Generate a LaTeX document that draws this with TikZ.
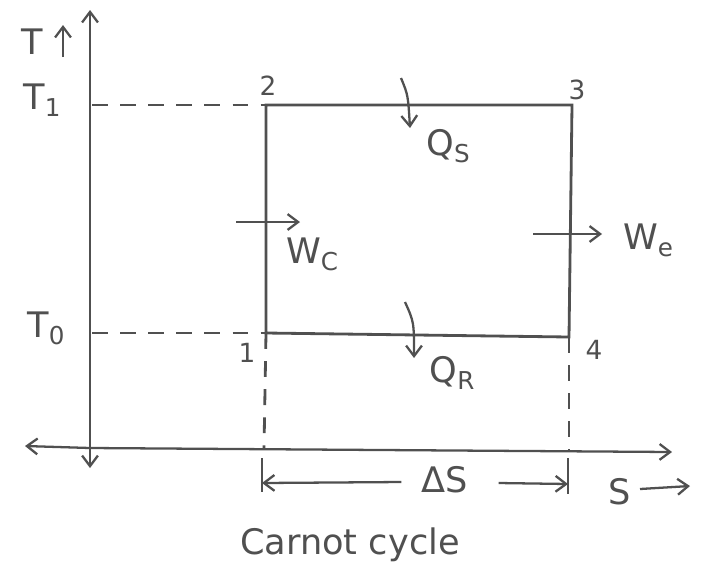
\documentclass[tikz,border=0pt]{standalone}
\usepackage{fontspec}
\setmainfont{DejaVu Sans}
\usetikzlibrary{arrows.meta}
\definecolor{ink}{RGB}{80,80,80}
\newcommand{\lowsub}[1]{\raisebox{-0.35ex}{\fontsize{14}{14}\selectfont #1}}
\begin{document}
\begin{tikzpicture}[x=0.02cm,y=-0.02cm,
  line/.style={draw=ink,line width=1.6pt},
  dashln/.style={draw=ink,line width=1.6pt,dash pattern=on 9pt off 7pt},
  arr/.style={draw=ink,line width=1.3pt,-{Straight Barb[length=6pt,width=9pt]}},
  lbl/.style={text=ink,font=\fontsize{20}{22}\selectfont,inner sep=0pt},
  sml/.style={text=ink,font=\fontsize{15}{17}\selectfont,inner sep=0pt}]
\fill[white] (0,0) rectangle (705,575);
\useasboundingbox (0,0) rectangle (705,575);
% axes
\coordinate (O) at (90,448);
\coordinate (Ytop) at (90,10);
\coordinate (Ybot) at (90,468);
\coordinate (Xl) at (25,446);
\coordinate (Xr) at (672,452);
\draw[arr] (O) -- (Ytop);
\draw[arr] (O) -- (Ybot);
\draw[arr] (O) -- (Xl);
\draw[arr] (O) -- (Xr);
% states
\coordinate (p1) at (266,333);
\coordinate (p2) at (266,105);
\coordinate (p3) at (572,105);
\coordinate (p4) at (569,337);
\draw[line] (p1) -- (p2) -- (p3) -- (p4) -- cycle;
% dashed projections
\coordinate (t1) at (92,105);
\coordinate (t0) at (92,333);
\coordinate (b1) at (264,448);
\coordinate (b4) at (569,452);
\draw[dashln] (t1) -- (p2);
\draw[dashln] (t0) -- (p1);
\draw[dashln] (p1) -- (b1);
\draw[dashln] (p4) -- (b4);
% Delta S dimension
\coordinate (d1a) at (262,458);
\coordinate (d1b) at (262,492);
\coordinate (d4a) at (568,458);
\coordinate (d4b) at (568,494);
\draw[line] (d1a) -- (d1b);
\draw[line] (d4a) -- (d4b);
\node[lbl] (dS) at (445,480) {ΔS};
\coordinate (dl) at (262,483);
\coordinate (dr) at (568,484);
\draw[arr] (dS.west) ++(-20,2) -- (dl);
\draw[arr] (dS.east) ++(30,3) -- (dr);
% labels
\node[lbl] (T) at (32,42) {T};
\coordinate (Ta) at (63,57);
\coordinate (Tb) at (63,25);
\draw[arr] (Ta) -- (Tb);
\node[lbl] (T1) at (42,100) {T\lowsub{1}};
\node[lbl] (T0) at (46,328) {T\lowsub{0}};
\node[sml] (n2) at (268,86) {2};
\node[sml] (n3) at (577,90) {3};
\node[sml] (n1) at (247,353) {1};
\node[sml] (n4) at (594,350) {4};
% S label
\node[lbl] (S) at (620,492) {S};
\coordinate (Sa) at (640,489);
\coordinate (Sb) at (690,486);
\draw[arr] (Sa) -- (Sb);
% heat and work
\coordinate (qsa) at (401,78);
\coordinate (qsb) at (410,128);
\draw[arr] (qsa) .. controls (408,95) .. (qsb);
\node[lbl] (Qs) at (448,146) {Q\lowsub{S}};
\coordinate (qra) at (405,302);
\coordinate (qrb) at (414,358);
\draw[arr] (qra) .. controls (414,322) .. (qrb);
\node[lbl] (QR) at (452,373) {Q\lowsub{R}};
\coordinate (wca) at (236,222);
\coordinate (wcb) at (300,222);
\draw[arr] (wca) -- (wcb);
\node[lbl] (Wc) at (312,254) {W\lowsub{C}};
\coordinate (wea) at (533,234);
\coordinate (web) at (602,234);
\draw[arr] (wea) -- (web);
\node[lbl] (We) at (648,240) {W\lowsub{e}};
\node[lbl] (title) at (350,545) {Carnot cycle};
\end{tikzpicture}
\end{document}
